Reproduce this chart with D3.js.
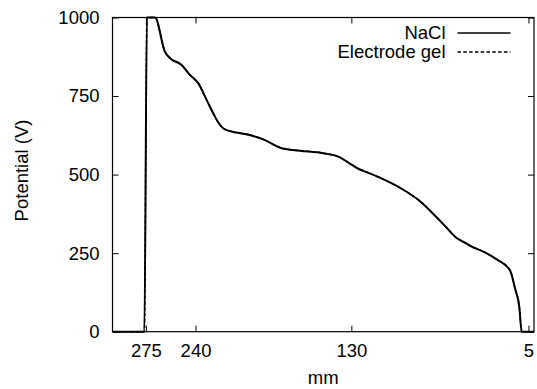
<!DOCTYPE html>
<html>
<head>
<meta charset="utf-8">
<script src="https://cdn.jsdelivr.net/npm/d3@7"></script>
<style>
  body { margin: 0; background: #fff; }
  text { font-family: "Liberation Sans", Arial, sans-serif; }
</style>
</head>
<body>
<div id="chart-area"></div>
<script>
// Data
var mmValues = [298, 276.1, 274.3, 268.6, 261.6, 258.1, 249.8, 243.9, 238.1, 232.2, 227.5, 224.5,
  219.2, 210, 201.6, 199.3, 192.2, 179.2, 166.3, 149.8, 138.1, 131.4, 124.4, 121.6, 110.3,
  93.8, 82.0, 70.2, 63.0, 56.2, 51.0, 45.1, 36.9, 27.4, 18.1, 14.5, 11.5, 9.8, 1.2];
var naclValues = [0, 0, 1000, 1000, 891, 871, 849, 817, 791, 738, 695, 670,
  644, 633, 626, 623, 612, 584, 576, 568, 555, 536, 517, 512, 491,
  453, 417, 366, 332, 300, 286, 271, 255, 230, 196, 138, 80, 0, 0];
var gelValues = [0, 0, 1000, 1000, 891, 871, 849, 817, 791, 738, 695, 670,
  644, 633, 626, 623, 612, 584, 576, 568, 555, 536, 517, 512, 491,
  453, 417, 366, 332, 300, 286, 271, 255, 230, 196, 138, 80, 0, 0];
var xTicks = [275, 240, 130, 5];
var yTicks = [0, 250, 500, 750, 1000];
var seriesNames = ["NaCl", "Electrode gel"];

var margin = {
  left: 112.5,
  right: 3,
  top: 17.5,
  bottom: 57.3
};

var width = 537 - margin.left - margin.right;
var height = 389 - margin.top - margin.bottom;
var fontSize = "18.5px";

// SVG
var svg = d3.select("#chart-area")
  .append("svg")
  .attr("width", 537)
  .attr("height", 389);

var g = svg.append("g")
  .attr("transform", "translate(" + margin.left + "," + margin.top + ")");

// Scales (x runs backwards)
var x = d3.scaleLinear()
  .domain([298.6, 1.1])
  .range([0, width]);

var y = d3.scaleLinear()
  .domain([0, 1000])
  .range([height, 0]);

// Axes with ticks pointing inward, mirrored on top and right
var xAxis = g.append("g")
  .attr("transform", "translate(0," + height + ")")
  .call(d3.axisBottom(x).tickValues(xTicks).tickSizeInner(-6).tickSizeOuter(0).tickPadding(12));

var xTop = g.append("g")
  .call(d3.axisTop(x).tickValues(xTicks).tickSizeInner(-6).tickSizeOuter(0).tickFormat(""));

var yAxis = g.append("g")
  .call(d3.axisLeft(y).tickValues(yTicks).tickFormat(d3.format("d"))
    .tickSizeInner(-6).tickSizeOuter(0).tickPadding(13));

var yRight = g.append("g")
  .attr("transform", "translate(" + width + ",0)")
  .call(d3.axisRight(y).tickValues(yTicks).tickSizeInner(-6).tickSizeOuter(0).tickFormat(""));

[xAxis, xTop, yAxis, yRight].forEach(function(a) {
  a.select(".domain").remove();
  a.selectAll("line").attr("stroke", "#000").attr("stroke-width", 1);
  a.selectAll("text")
    .attr("font-family", "Liberation Sans, Arial, sans-serif")
    .attr("font-size", fontSize)
    .attr("fill", "#000");
});

// Frame
g.append("rect")
  .attr("width", width)
  .attr("height", height)
  .attr("fill", "none")
  .attr("stroke", "#000")
  .attr("stroke-width", 1.2);

// Lines
var line = d3.line()
  .x(function(d) { return x(d[0]); })
  .y(function(d) { return y(d[1]); })
  .curve(d3.curveMonotoneX);

g.append("path")
  .datum(d3.zip(mmValues, naclValues))
  .attr("d", line)
  .attr("fill", "none")
  .attr("stroke", "#000")
  .attr("stroke-width", 2)
  .attr("stroke-linejoin", "round");

g.append("path")
  .datum(d3.zip(mmValues, gelValues))
  .attr("d", line)
  .attr("fill", "none")
  .attr("stroke", "#000")
  .attr("stroke-width", 1.5)
  .attr("stroke-dasharray", "3.5,2.3");

// Legend
var legend = g.selectAll(".legend")
  .data(seriesNames)
  .enter()
  .append("g")
  .attr("class", "legend")
  .attr("transform", function(d, i) {
    return "translate(0," + (15.5 + i * 19) + ")";
  });

legend.append("text")
  .attr("x", 333)
  .attr("y", 0)
  .attr("dy", "0.35em")
  .attr("text-anchor", "end")
  .attr("font-size", fontSize)
  .text(function(d) { return d; });

legend.append("line")
  .attr("x1", 345)
  .attr("x2", 398)
  .attr("stroke", "#000")
  .attr("stroke-width", 1.5)
  .attr("stroke-dasharray", function(d, i) {
    return i === 0 ? null : "3.5,2.3";
  });

// X label
g.append("text")
  .attr("x", width / 2)
  .attr("y", height + 46)
  .attr("dy", "0.35em")
  .attr("text-anchor", "middle")
  .attr("font-size", fontSize)
  .text("mm");

// Y label
g.append("text")
  .attr("x", -153)
  .attr("y", -91)
  .attr("dy", "0.35em")
  .attr("transform", "rotate(-90)")
  .attr("text-anchor", "middle")
  .attr("font-size", fontSize)
  .text("Potential (V)");
</script>
</body>
</html>
